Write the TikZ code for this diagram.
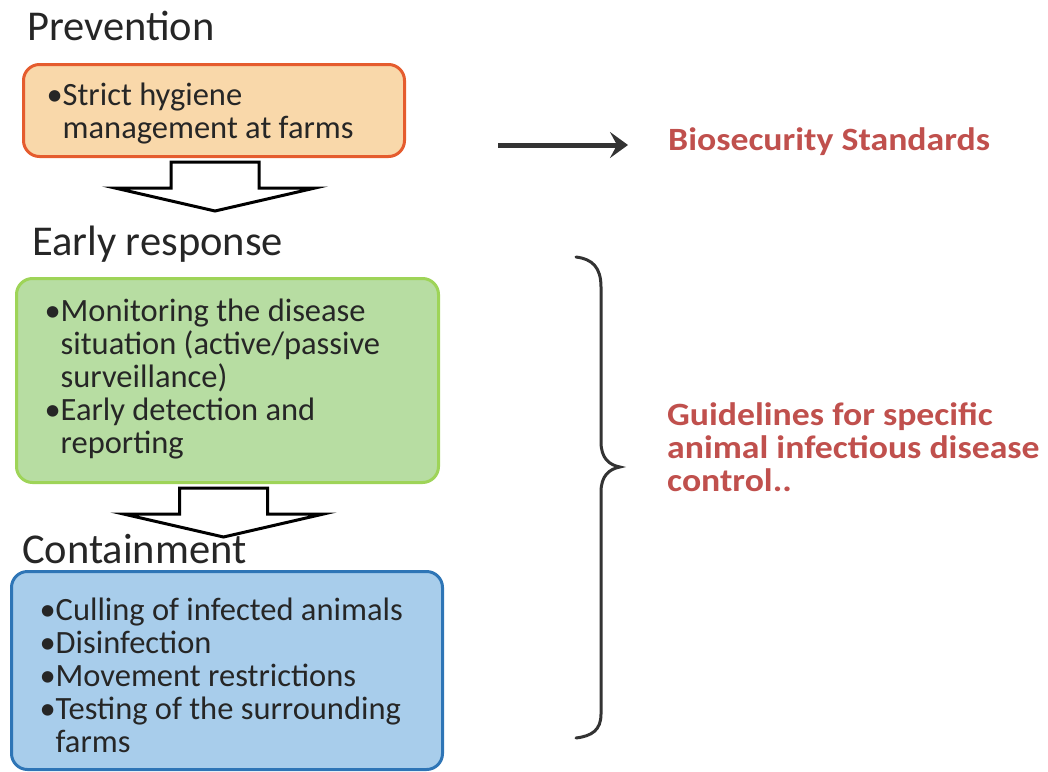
\documentclass[tikz,border=0pt]{standalone}
\usepackage{fontspec}
\setmainfont{Carlito}
\newfontfamily\widebold[FakeStretch=1.1]{Carlito Bold}
\usepackage{xcolor}
\usetikzlibrary{arrows.meta,positioning}

\definecolor{prevfill}{RGB}{249,216,170}
\definecolor{prevdraw}{RGB}{229,92,46}
\definecolor{earlyfill}{RGB}{183,221,162}
\definecolor{earlydraw}{RGB}{158,212,88}
\definecolor{contfill}{RGB}{168,205,235}
\definecolor{contdraw}{RGB}{46,117,182}
\definecolor{guidered}{RGB}{192,80,77}
\definecolor{inkgray}{RGB}{38,38,38}

\newlength{\bulwd}
\newcommand{\bul}{\par\settowidth{\bulwd}{\textbullet}\leftskip=\bulwd\noindent\llap{\textbullet}}
\newcommand{\bodyfont}{\fontsize{32.5}{33}\selectfont\lineskiplimit=-20pt}
\newcommand{\headfont}{\fontsize{42.5}{46}\selectfont}

\begin{document}
\begin{tikzpicture}[
    x=1pt, y=-1pt,
    box/.style={rectangle, rounded corners=16pt, line width=3pt, anchor=north west,
      align=flush left, font=\bodyfont, text=inkgray, inner ysep=0pt},
    prevbox/.style={box, fill=prevfill, draw=prevdraw},
    earlybox/.style={box, fill=earlyfill, draw=earlydraw},
    contbox/.style={box, fill=contfill, draw=contdraw},
    heading/.style={anchor=base west, inner sep=0pt, font=\headfont, text=inkgray},
    redlabel/.style={inner sep=0pt, align=flush left, font=\bodyfont\widebold, text=guidered},
    blockarr/.style={draw=black, fill=white, line width=3pt, line join=miter},
    arrow/.style={-{Stealth[length=18pt, width=26pt, inset=7pt]}, line width=5pt, draw=black!80},
    bracket/.style={line width=3pt, draw=black!80, line cap=round},
  ]
    \useasboundingbox (0,0) rectangle (1048,771);

    % headings
    \node[heading] (hprev) at (27,40) {Prevention};
    \node[heading] (hearly) at (32,255) {Early response};
    \node[heading] (hcont) at (22,563) {Containment};

    % boxes
    \node[prevbox, inner xsep=23pt, text width=335pt, minimum height=92pt] (prev) at (22,63)
      {\bul Strict hygiene\\management at farms\par\vspace*{4pt}};
    \node[earlybox, inner xsep=28pt, text width=366pt, minimum height=204pt] (early) at (15,277)
      {\bul Monitoring the disease\\situation (active/passive\\surveillance)
       \bul Early detection and\\reporting\par\vspace*{14pt}};
    \node[contbox, inner xsep=28pt, text width=375pt, minimum height=198pt] (cont) at (10,570)
      {\bul Culling of infected animals
       \bul Disinfection
       \bul Movement restrictions
       \bul Testing of the surrounding\\farms\par};

    % block arrows between the boxes
    \foreach \bx/\dx in {prev/1, early/-4}
      \draw[blockarr] ([xshift=\dx pt, yshift=-4pt]\bx.south) ++(-44,0) -- ++(88,0) -- ++(0,26)
        -- ++(56,0) -- ++(-100,23) -- ++(-100,-23) -- ++(56,0) -- cycle;

    % right side
    \node[redlabel, anchor=base west] (bio) at (668,150) {Biosecurity Standards};
    \coordinate (arrstart) at (498,145);
    \draw[arrow] (arrstart) -- ([xshift=-40pt]bio.west |- arrstart);

    \node[redlabel, anchor=west, text width=380pt] (guide) at (667,447)
      {Guidelines for specific\\animal infectious disease\\control..};

    \draw[bracket] (576,257) .. controls (592,259) and (601,267) .. (601,287) -- (601,442)
      .. controls (601,458) and (609,465) .. (620,467)
      .. controls (609,469) and (601,476) .. (601,492) -- (601,714)
      .. controls (601,730) and (592,736) .. (576,738);
  \end{tikzpicture}
\end{document}
